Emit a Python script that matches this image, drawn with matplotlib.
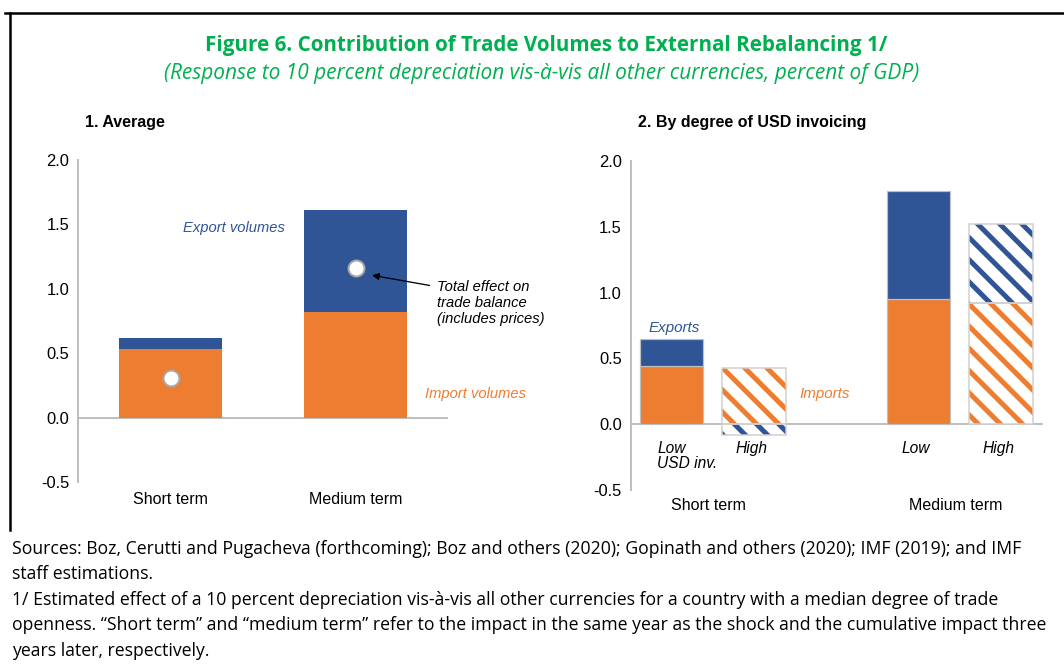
import numpy as np
import matplotlib.pyplot as plt
from matplotlib.transforms import blended_transform_factory

DPI = 133
W, H = 1064, 668

def pt(px):
    return px * 72.0 / DPI

def fx(x):
    return x / W

def fy(y):
    return 1 - y / H

orange = '#ED7D31'
blue = '#2F5597'
green = '#00B050'
grey = '#BFBFBF'

# panel 1: average
avg_cats = ['Short term', 'Medium term']
avg_imports = [0.53, 0.82]
avg_exports = [0.09, 0.79]
avg_total = [0.31, 1.16]

# panel 2: by degree of USD invoicing
usd_groups = ['Short term', 'Medium term']
usd_bars = ['Low\nUSD inv.', 'High', 'Low', 'High']
usd_imports = [0.44, 0.43, 0.95, 0.92]
usd_exports = [0.21, -0.08, 0.82, 0.60]
usd_hatched = [False, True, False, True]

ticks = [-0.5, 0.0, 0.5, 1.0, 1.5, 2.0]

plt.rcParams['font.family'] = ['Liberation Sans', 'DejaVu Sans']
plt.rcParams['hatch.linewidth'] = pt(5)

fig = plt.figure(figsize=(W / DPI, H / DPI), dpi=DPI)


def style_axis(ax):
    ax.set_ylim(-0.5, 2.0)
    ax.set_yticks(ticks)
    ax.set_yticklabels([f'{t:.1f}' for t in ticks])
    for s in ['top', 'right', 'bottom']:
        ax.spines[s].set_visible(False)
    ax.spines['left'].set_color(grey)
    ax.spines['left'].set_linewidth(pt(2))
    ax.tick_params(axis='y', length=0, pad=pt(9), labelsize=pt(16.5))
    ax.tick_params(axis='x', length=0, labelbottom=False)
    ax.axhline(0, color=grey, linewidth=pt(2), zorder=1)


# ---- panel 1
ax1 = fig.add_axes([fx(78), fy(482), (448 - 78) / W, (482 - 160) / H])
x1 = np.arange(len(avg_cats))
ax1.bar(x1, avg_imports, width=0.56, color=orange, zorder=2)
ax1.bar(x1, avg_exports, width=0.56, bottom=avg_imports, color=blue, zorder=2)
ax1.plot(x1, avg_total, 'o', markersize=pt(16), markerfacecolor='white',
         markeredgecolor='#A6A6A6', markeredgewidth=pt(2), zorder=4)
ax1.set_xlim(-0.5, 1.5)
style_axis(ax1)
tr1 = blended_transform_factory(ax1.transData, ax1.transAxes)
for i, c in enumerate(avg_cats):
    ax1.text(x1[i], -18 / 322, c, transform=tr1, ha='center', va='center',
             fontsize=pt(16))
ax1.text(0.068, 1.47, 'Export volumes', color=blue, style='italic',
         fontsize=pt(14.8), ha='left', va='center', zorder=5)
ax1.text(1.376, 0.18, 'Import volumes', color=orange, style='italic',
         fontsize=pt(14.8), ha='left', va='center')
ax1.annotate('Total effect on\ntrade balance\n(includes prices)',
             xy=(x1[1] + 0.07, avg_total[1] - 0.05), xytext=(1.44, 1.07),
             fontsize=pt(14.8), style='italic', ha='left', va='top',
             linespacing=1.2,
             arrowprops=dict(arrowstyle='-|>', color='black', lw=pt(1.3),
                             mutation_scale=pt(14),
                             relpos=(0, 0.85)))

# ---- panel 2
ax2 = fig.add_axes([fx(631), fy(490), (1043 - 631) / W, (490 - 161) / H])
x2 = np.array([0, 1, 3, 4])
for i in range(len(x2)):
    imp = usd_imports[i]
    exp = usd_exports[i]
    if exp >= 0:
        eb = imp
    else:
        eb = 0
    if usd_hatched[i]:
        ax2.bar(x2[i], imp, width=0.77, color='white', edgecolor=orange,
                hatch='\\\\', linewidth=0, zorder=2)
        ax2.bar(x2[i], exp, width=0.77, bottom=eb, color='white',
                edgecolor=blue, hatch='\\\\', linewidth=0, zorder=2)
        ax2.bar(x2[i], imp, width=0.77, fill=False, edgecolor='#D0D0D0',
                linewidth=pt(1.5), zorder=3)
        ax2.bar(x2[i], exp, width=0.77, bottom=eb, fill=False,
                edgecolor='#D0D0D0', linewidth=pt(1.5), zorder=3)
    else:
        ax2.bar(x2[i], imp, width=0.77, color=orange, edgecolor=grey,
                linewidth=pt(1.2), zorder=2)
        ax2.bar(x2[i], exp, width=0.77, bottom=eb, color=blue,
                edgecolor=grey, linewidth=pt(1.2), zorder=2)
ax2.set_xlim(-0.49, 4.51)
style_axis(ax2)
tr2 = blended_transform_factory(ax2.transData, ax2.transAxes)
ax2.text(-0.17, -0.13, usd_bars[0], transform=ax2.transData, ha='left',
         va='top', style='italic', fontsize=pt(15.5), linespacing=1.0)
for i in range(1, len(x2)):
    ax2.text(x2[i] - 0.03, -0.13, usd_bars[i], ha='center', va='top',
             style='italic', fontsize=pt(15.5))
for g, c in zip([0.45, 3.45], usd_groups):
    ax2.text(g, -15 / 329, c, transform=tr2, ha='center', va='center',
             fontsize=pt(16))
ax2.text(-0.28, 0.73, 'Exports', color=blue, style='italic',
         fontsize=pt(15.2), ha='left', va='center')
ax2.text(1.55, 0.23, 'Imports', color=orange, style='italic',
         fontsize=pt(15.2), ha='left', va='center')

# ---- titles
fig.text(fx(546), fy(45), 'Figure 6. Contribution of Trade Volumes to External Rebalancing 1/',
         ha='center', va='center', color=green, fontweight='bold',
         fontsize=pt(20.6), family=['Open Sans', 'DejaVu Sans'])
fig.text(fx(542), fy(73), '(Response to 10 percent depreciation vis-à-vis all other currencies, percent of GDP)',
         ha='center', va='center', color=green, style='italic',
         fontsize=pt(20.9), family=['Open Sans', 'DejaVu Sans'])
fig.text(fx(85), fy(122), '1. Average', ha='left', va='center',
         fontweight='bold', fontsize=pt(16))
fig.text(fx(638), fy(122), '2. By degree of USD invoicing', ha='left',
         va='center', fontweight='bold', fontsize=pt(16))

# ---- footer
footer = ('Sources: Boz, Cerutti and Pugacheva (forthcoming); Boz and others (2020); Gopinath and others (2020); IMF (2019); and IMF\n'
          'staff estimations.\n'
          '1/ Estimated effect of a 10 percent depreciation vis-à-vis all other currencies for a country with a median degree of trade\n'
          'openness. \u201cShort term\u201d and \u201cmedium term\u201d refer to the impact in the same year as the shock and the cumulative impact three\n'
          'years later, respectively.')
fig.text(fx(12), fy(540), footer, ha='left', va='top', fontsize=pt(17.6),
         linespacing=1.53, family=['Open Sans', 'DejaVu Sans'])

# ---- frame
fig.add_artist(plt.Line2D([fx(5), fx(1064)], [fy(13), fy(13)], color='black',
                          linewidth=pt(2.5)))
fig.add_artist(plt.Line2D([fx(10), fx(10)], [fy(13), fy(530)], color='black',
                          linewidth=pt(2.5)))

fig.savefig('out.png', dpi=DPI, facecolor='white')
